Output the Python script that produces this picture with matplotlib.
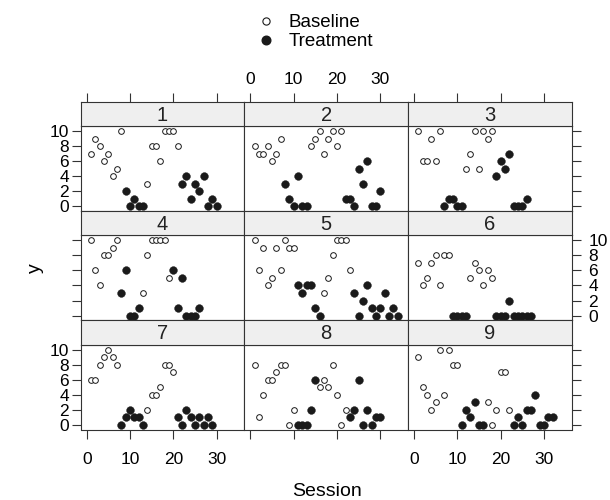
import matplotlib
matplotlib.use("Agg")
import matplotlib.pyplot as plt
from matplotlib.lines import Line2D

plt.rcParams["font.family"] = ["Liberation Sans", "DejaVu Sans"]

# values per session (session 1..N), phase letter per session: B = baseline, T = treatment
y_1 = [7, 9, 8, 6, 7, 4, 5, 10, 2, 0, 1, 0, 0, 3, 8, 8, 6, 10, 10, 10, 8, 3, 4, 1, 3, 2, 4, 0, 1, 0]
ph_1 = "BBBBBBBBTTTTTBBBBBBBBTTTTTTTTT"
y_2 = [8, 7, 7, 8, 6, 7, 9, 3, 1, 0, 4, 0, 0, 8, 9, 10, 7, 9, 10, 8, 10, 1, 1, 0, 5, 3, 6, 0, 0, 2]
ph_2 = "BBBBBBBTTTTTTBBBBBBBBTTTTTTTTT"
y_3 = [10, 6, 6, 9, 6, 10, 0, 1, 1, 0, 0, 5, 7, 10, 5, 10, 9, 10, 4, 6, 5, 7, 0, 0, 0, 1]
ph_3 = "BBBBBBTTTTTBBBBBBBTTTTTTTT"
y_4 = [10, 6, 4, 8, 8, 9, 10, 3, 6, 0, 0, 1, 3, 8, 10, 10, 10, 10, 5, 6, 1, 5, 0, 0, 0, 1]
ph_4 = "BBBBBBBTTTTTBBBBBBBTTTTTTT"
y_5 = [10, 6, 9, 4, 5, 9, 6, 10, 9, 9, 4, 3, 4, 4, 1, 0, 3, 5, 8, 10, 10, 10, 6,
       3, 0, 2, 4, 1, 0, 1, 3, 0, 1, 0]
ph_5 = "BBBBBBBBBBTTTTTTBBBBBBBTTTTTTTTTTT"
y_6 = [7, 4, 5, 7, 8, 4, 8, 8, 0, 0, 0, 0, 5, 7, 6, 4, 6, 5, 0, 0, 0, 2, 0, 0, 0, 0, 0]
ph_6 = "BBBBBBBBTTTTBBBBBBTTTTTTTTT"
y_7 = [6, 6, 8, 9, 10, 9, 8, 0, 1, 2, 1, 1, 0, 2, 4, 4, 5, 8, 8, 7, 1, 0, 2, 1, 0, 1, 0, 1, 0]
ph_7 = "BBBBBBBTTTTTTBBBBBBBTTTTTTTTT"
y_8 = [8, 1, 4, 6, 6, 7, 8, 8, 0, 2, 0, 0, 0, 2, 6, 5, 6, 5, 8, 4, 0, 2, 1, 2, 6, 0, 2, 0, 1, 1]
ph_8 = "BBBBBBBBBBTTTTTBBBBBBBTTTTTTTT"
y_9 = [9, 5, 4, 2, 3, 10, 4, 10, 8, 8, 0, 2, 1, 3, 0, 0, 3, 0, 2, 7, 7, 2,
       0, 1, 0, 2, 2, 4, 0, 0, 1, 1]
ph_9 = "BBBBBBBBBBTTTTTTBBBBBBTTTTTTTTTT"

subjects = ["1", "2", "3", "4", "5", "6", "7", "8", "9"]
values = [y_1, y_2, y_3, y_4, y_5, y_6, y_7, y_8, y_9]
phases = [ph_1, ph_2, ph_3, ph_4, ph_5, ph_6, ph_7, ph_8, ph_9]

x_ticks = [0, 10, 20, 30]
y_ticks = [0, 2, 4, 6, 8, 10]

W, H = 610, 500
fig = plt.figure(figsize=(W / 100, H / 100), dpi=100)

left, right = 80.7, 571.7
top, bottom = 101.7, 429.5
col_w = (right - left) / 3
row_h = (bottom - top) / 3
strip_h = 24.5
frame = "#333333"
tick_kw = dict(direction="out", length=6.5, width=0.8, color=frame, labelsize=12.5, pad=2)


def fx(px):
    return px / W


def fy(py):
    return 1 - py / H


for i, (name, ys, ph) in enumerate(zip(subjects, values, phases)):
    r, c = divmod(i, 3)
    x0 = left + c * col_w
    y_top = top + r * row_h
    ax = fig.add_axes([fx(x0), fy(y_top + row_h), col_w / W, (row_h - strip_h) / H])
    st = fig.add_axes([fx(x0), fy(y_top + strip_h), col_w / W, strip_h / H], sharex=ax)

    sess = list(range(1, len(ys) + 1))
    bx = [s for s, p in zip(sess, ph) if p == "B"]
    by = [v for v, p in zip(ys, ph) if p == "B"]
    tx = [s for s, p in zip(sess, ph) if p == "T"]
    ty = [v for v, p in zip(ys, ph) if p == "T"]
    ax.plot(bx, by, "o", ms=4.1, mfc="white", mec="#1a1a1a", mew=0.7, ls="none")
    ax.plot(tx, ty, "o", ms=5.6, mfc="#1a1a1a", mec="#1a1a1a", mew=0.3, ls="none")

    ax.set_xlim(-1.4, 36.4)
    ax.set_ylim(-0.62, 10.65)
    ax.set_xticks(x_ticks)
    ax.set_yticks(y_ticks)
    for sp in ax.spines.values():
        sp.set_color(frame)
        sp.set_linewidth(0.8)
    ax.tick_params(axis="both", **tick_kw)
    ax.tick_params(axis="x", bottom=(r == 2), top=False, pad=9.5,
                   labelbottom=(r == 2 and c != 1), labeltop=False)
    ax.tick_params(axis="y", left=(c == 0), right=(c == 2),
                   labelleft=(c == 0 and r != 1), labelright=(c == 2 and r == 1))
    ax.tick_params(axis="y", which="major", right=(c == 2))
    if c == 2:
        for t in ax.yaxis.get_major_ticks():
            t.set_pad(5.5)

    st.set_facecolor("#efefef")
    for sp in st.spines.values():
        sp.set_color(frame)
        sp.set_linewidth(0.8)
    st.set_yticks([])
    st.tick_params(axis="x", **tick_kw)
    st.tick_params(axis="x", bottom=False, labelbottom=False, pad=4,
                   top=(r == 0), labeltop=(r == 0 and c == 1))
    st.text(0.5, 0.45, name, transform=st.transAxes, ha="center", va="center",
            fontsize=14.5, color="#222222")

fig.text(fx(327), fy(496), "Session", ha="center", va="baseline", fontsize=14)
fig.text(fx(35), fy(268), "y", ha="center", va="center", rotation=90, fontsize=14)

handles = [
    Line2D([], [], marker="o", ls="none", ms=5.2, mfc="white", mec="#1a1a1a", mew=0.8),
    Line2D([], [], marker="o", ls="none", ms=6.2, mfc="#1a1a1a", mec="#1a1a1a"),
]
fig.legend(handles, ["Baseline", "Treatment"], loc="upper left",
           bbox_to_anchor=(fx(242), fy(1)), frameon=False, fontsize=13.5,
           handlelength=1.2, handletextpad=0.6, labelspacing=0.1, borderpad=0.2)

fig.savefig("out.png", dpi=100)
